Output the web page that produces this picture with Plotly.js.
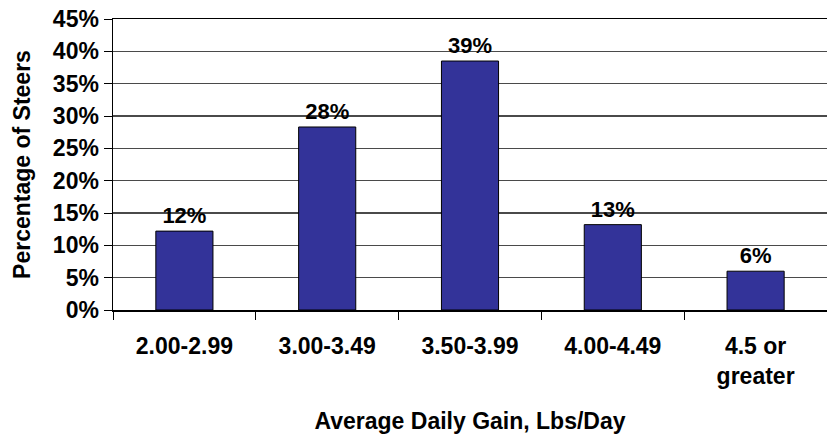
<!DOCTYPE html>
<html>
<head>
<meta charset="utf-8">
<script src="https://cdn.plot.ly/plotly-3.0.1.min.js"></script>
<style>html,body{margin:0;padding:0;background:#fff;}#chart{width:827px;height:436px;}</style>
</head>
<body>
<div id="chart"></div>
<script>
const categories = ["2.00-2.99", "3.00-3.49", "3.50-3.99", "4.00-4.49", "4.5 or<br>greater"];
const percentSteers = [12.2, 28.3, 38.5, 13.2, 6.0];
const barLabels = ["12%", "28%", "39%", "13%", "6%"];
const yTickVals = [0, 5, 10, 15, 20, 25, 30, 35, 40, 45];
const yTickLabels = ["0%", "5%", "10%", "15%", "20%", "25%", "30%", "35%", "40%", "45%"];

const fontFam = "Liberation Sans, Arial, sans-serif";

const trace = {
  type: "bar",
  x: categories,
  y: percentSteers,
  text: barLabels,
  textposition: "outside",
  cliponaxis: false,
  textfont: {family: fontFam, size: 22, color: "#000", weight: "bold"},
  marker: {color: "#333399", line: {color: "#000", width: 1}},
  hoverinfo: "none"
};

const layout = {
  width: 827,
  height: 436,
  margin: {l: 113, r: 0, t: 19, b: 126},
  paper_bgcolor: "#fff",
  plot_bgcolor: "#fff",
  bargap: 0.6,
  showlegend: false,
  font: {family: fontFam, size: 23, color: "#000", weight: "bold"},
  xaxis: {
    type: "category",
    showline: true,
    linecolor: "#000",
    linewidth: 1.5,
    mirror: true,
    ticks: "outside",
    tickson: "boundaries",
    ticklen: 8,
    tickcolor: "#000",
    tickwidth: 1,
    ticklabelstandoff: 15,
    tickfont: {family: fontFam, size: 23, color: "#000", weight: "bold"},
    showgrid: false,
    automargin: false,
    title: {text: "Average Daily Gain, Lbs/Day", standoff: 25,
            font: {family: fontFam, size: 23, color: "#000", weight: "bold"}}
  },
  yaxis: {
    range: [0, 45],
    tickmode: "array",
    tickvals: yTickVals,
    ticktext: yTickLabels,
    showline: true,
    linecolor: "#000",
    linewidth: 1.5,
    ticks: "outside",
    ticklen: 8,
    tickcolor: "#000",
    tickwidth: 1,
    showgrid: true,
    gridcolor: "#4a4a4a",
    gridwidth: 1.3,
    zeroline: false,
    automargin: false,
    tickfont: {family: fontFam, size: 23, color: "#000", weight: "bold"},
    title: {text: "Percentage of Steers", standoff: 16,
            font: {family: fontFam, size: 23, color: "#000", weight: "bold"}}
  }
};

Plotly.newPlot("chart", [trace], layout, {staticPlot: true, displayModeBar: false});
</script>
</body>
</html>
